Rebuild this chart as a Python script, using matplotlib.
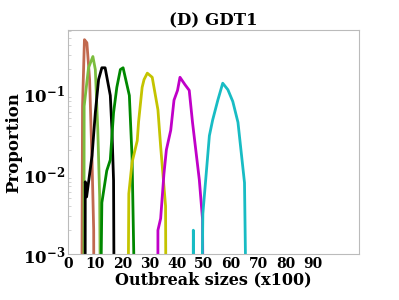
import matplotlib
matplotlib.use("Agg")
import matplotlib.pyplot as plt

plt.rcParams['font.family'] = 'DejaVu Serif'
plt.rcParams['font.weight'] = 'bold'
plt.rcParams['mathtext.fontset'] = 'custom'
plt.rcParams['mathtext.rm'] = 'DejaVu Serif:bold'
plt.rcParams['mathtext.it'] = 'DejaVu Serif:bold'
plt.rcParams['mathtext.bf'] = 'DejaVu Serif:bold'

ZERO = 1e-6  # empty bins, fall off the bottom of the log axis

# outbreak size (x100) and proportion
x_sienna = [4.9, 5.4, 6.1, 7.0, 8.0, 8.9, 9.5, 9.7]
y_sienna = [ZERO, 0.07, 0.47, 0.43, 0.15, 0.014, 0.002, ZERO]

x_lgreen = [5.8, 6.0, 7.6, 9.2, 10.1, 11.0, 11.7, 12.4]
y_lgreen = [ZERO, 0.07, 0.21, 0.29, 0.20, 0.036, 0.0052, ZERO]

x_black = [6.3, 6.4, 6.9, 8.9, 10.1, 11.3, 12.5, 13.7, 15.6, 16.2, 16.8, 17.3]
y_black = [ZERO, 0.008, 0.0052, 0.017, 0.058, 0.15, 0.21, 0.21, 0.095, 0.036, 0.0083, ZERO]

x_green = [11.2, 12.5, 14.3, 15.6, 16.8, 18.0, 19.3, 20.3, 22.6, 23.6, 25.8]
y_green = [ZERO, 0.0044, 0.011, 0.015, 0.058, 0.12, 0.20, 0.21, 0.095, 0.016, ZERO]

x_yellow = [21.7, 22.4, 23.6, 25.5, 26.0, 27.3, 28.0, 29.2, 31.0, 33.1, 34.1, 35.9, 36.3]
y_yellow = [ZERO, 0.0057, 0.014, 0.026, 0.045, 0.12, 0.15, 0.18, 0.16, 0.063, 0.022, 0.004, ZERO]

x_magenta = [33.0, 33.1, 34.1, 35.3, 36.2, 37.8, 39.0, 40.3, 41.2, 43.0, 44.6, 45.8, 47.0, 48.3, 49.5, 49.9]
y_magenta = [ZERO, 0.002, 0.0028, 0.01, 0.02, 0.035, 0.083, 0.11, 0.16, 0.13, 0.11, 0.044, 0.02, 0.0085, 0.0027, ZERO]

x_cyan = [45.9, 46.1, 47.4, 48.4, 49.6, 52.0, 53.2, 55.1, 56.9, 58.8, 60.6, 62.5, 64.9, 66.4]
y_cyan = [ZERO, 0.002, ZERO, ZERO, 0.0032, 0.03, 0.047, 0.083, 0.135, 0.112, 0.08, 0.044, 0.0078, ZERO]

series = [
    (x_sienna, y_sienna, '#c1694f'),
    (x_lgreen, y_lgreen, '#7cbd3e'),
    (x_black, y_black, 'black'),
    (x_green, y_green, '#008800'),
    (x_yellow, y_yellow, '#c4c400'),
    (x_magenta, y_magenta, '#c000c8'),
    (x_cyan, y_cyan, '#18bcc4'),
]

fig = plt.figure(figsize=(3.99, 3.0), dpi=100)
ax = fig.add_axes([0.17, 0.152, 0.73, 0.748])

for xs, ys, c in series:
    ax.plot(xs, ys, color=c, linewidth=2)

ax.set_yscale('log')
ax.set_ylim(1e-3, 0.62)
ax.set_xlim(0, 107)
ax.set_xticks(range(0, 91, 10))

for s in ax.spines.values():
    s.set_color('#bbbbbb')
ax.tick_params(axis='x', labelsize=10, length=0, pad=2)
ax.tick_params(axis='y', labelsize=12, length=0, pad=2)
ax.tick_params(which='minor', direction='in', length=2, color='#cccccc')

ax.set_title("(D) GDT1", fontsize=12, fontweight='bold', pad=3)
ax.set_xlabel("Outbreak sizes (x100)", fontsize=11.5, fontweight='bold', labelpad=0)
ax.set_ylabel("Proportion", fontsize=12, fontweight='bold', labelpad=0)

fig.savefig("out.png", dpi=100)
